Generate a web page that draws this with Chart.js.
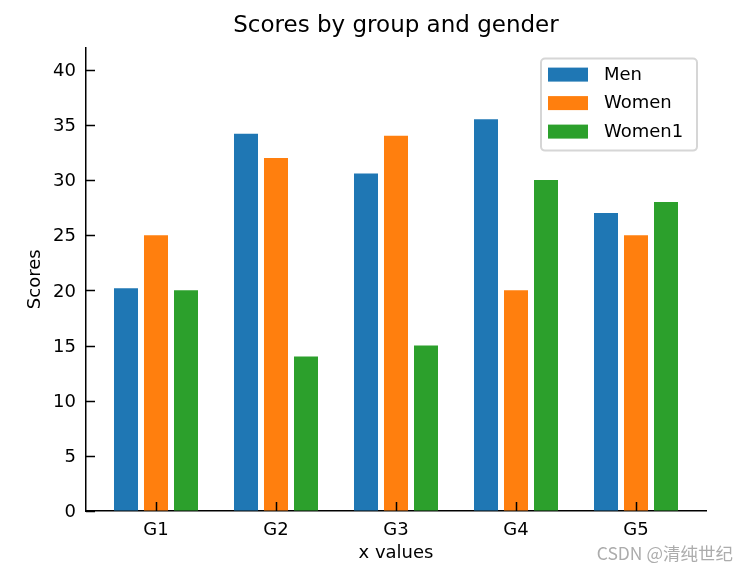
<!DOCTYPE html>
<html>
<head>
<meta charset="utf-8">
<script src="https://cdn.jsdelivr.net/npm/chart.js@4/dist/chart.umd.min.js"></script>
<style>
  html, body { margin: 0; padding: 0; background: #fff; }
</style>
</head>
<body>
<canvas id="chart" width="749" height="572"></canvas>
<script>
const groups = ['G1', 'G2', 'G3', 'G4', 'G5'];
const menScores = [20.2, 34.2, 30.6, 35.5, 27];
const womenScores = [25, 32, 34, 20, 25];
const women1Scores = [20, 14, 15, 30, 28];

const toPoints = vals => vals.map((v, i) => ({ x: i, y: v }));

Chart.defaults.font.family = '"DejaVu Sans", sans-serif';
Chart.defaults.color = '#000';

// matplotlib style: ticks pointing into the plot
const inwardTicks = {
  id: 'inwardTicks',
  afterDraw(chart) {
    const { ctx, chartArea, scales: { x, y } } = chart;
    ctx.save();
    ctx.strokeStyle = '#000';
    ctx.lineWidth = 1.5;
    ctx.beginPath();
    y.ticks.forEach(t => {
      const py = Math.round(y.getPixelForValue(t.value)) + 0.5;
      ctx.moveTo(chartArea.left, py);
      ctx.lineTo(chartArea.left + 9, py);
    });
    x.ticks.forEach(t => {
      const px = Math.round(x.getPixelForValue(t.value)) + 0.5;
      ctx.moveTo(px, chartArea.bottom);
      ctx.lineTo(px, chartArea.bottom - 9);
    });
    ctx.stroke();
    ctx.restore();
  }
};

// framed legend in the top right corner of the plot
const boxLegend = {
  id: 'boxLegend',
  afterDraw(chart) {
    const { ctx, chartArea } = chart;
    const w = 156, h = 92;
    const left = chartArea.right - 9 - w;
    const top = chartArea.top + 11;
    ctx.save();
    ctx.fillStyle = 'rgba(255,255,255,0.8)';
    ctx.strokeStyle = '#d6d6d6';
    ctx.lineWidth = 2;
    ctx.beginPath();
    ctx.roundRect(left, top, w, h, 4);
    ctx.fill();
    ctx.stroke();
    ctx.font = '18px "DejaVu Sans"';
    ctx.textBaseline = 'middle';
    chart.data.datasets.forEach((ds, i) => {
      const cy = top + 16 + i * 28.5;
      ctx.fillStyle = ds.backgroundColor;
      ctx.fillRect(left + 7, cy - 7, 40, 14);
      ctx.fillStyle = '#000';
      ctx.fillText(ds.label, left + 63, cy + 0.5);
    });
    ctx.restore();
  }
};

const watermark = {
  id: 'watermark',
  afterDraw(chart) {
    const { ctx } = chart;
    ctx.save();
    ctx.font = '17.5px "Noto Sans CJK SC"';
    ctx.fillStyle = '#acacac';
    ctx.textAlign = 'right';
    ctx.textBaseline = 'middle';
    ctx.fillText('CSDN @清纯世纪', 733, 553.5);
    ctx.restore();
  }
};

new Chart(document.getElementById('chart'), {
  type: 'bar',
  data: {
    datasets: [
      { label: 'Men', data: toPoints(menScores), backgroundColor: '#1f77b4' },
      { label: 'Women', data: toPoints(womenScores), backgroundColor: '#ff7f0e' },
      { label: 'Women1', data: toPoints(women1Scores), backgroundColor: '#2ca02c' }
    ]
  },
  options: {
    responsive: false,
    devicePixelRatio: 1,
    animation: false,
    categoryPercentage: 0.75,
    barPercentage: 0.8,
    layout: { padding: { left: 0, right: 43, top: 0, bottom: 0 } },
    plugins: {
      legend: { display: false },
      tooltip: { enabled: false },
      title: {
        display: true,
        fullSize: false,
        text: 'Scores by group and gender',
        font: { size: 23, weight: 'normal' },
        color: '#000',
        padding: { top: 12, bottom: 8 }
      }
    },
    scales: {
      x: {
        type: 'linear',
        offset: false,
        min: -0.5833,
        max: 4.5833,
        z: 1,
        grid: { drawOnChartArea: false, drawTicks: false },
        border: { color: '#000', width: 1.5 },
        ticks: {
          stepSize: 1,
          includeBounds: false,
          padding: 9,
          font: { size: 18 },
          callback: v => groups[v]
        },
        title: { display: true, text: 'x values', font: { size: 18 }, padding: { top: 0, bottom: 8 } },
        afterFit: s => { s.height = 61; }
      },
      y: {
        min: 0,
        max: 42,
        z: 1,
        grid: { drawOnChartArea: false, drawTicks: false },
        border: { color: '#000', width: 1.5 },
        ticks: { stepSize: 5, includeBounds: false, padding: 10, labelOffset: 1.5, font: { size: 18 } },
        title: { display: true, text: 'Scores', font: { size: 18 }, padding: { top: 25, bottom: 0 } },
        afterFit: s => { s.width = 86; }
      }
    }
  },
  plugins: [inwardTicks, boxLegend, watermark]
});
</script>
</body>
</html>
